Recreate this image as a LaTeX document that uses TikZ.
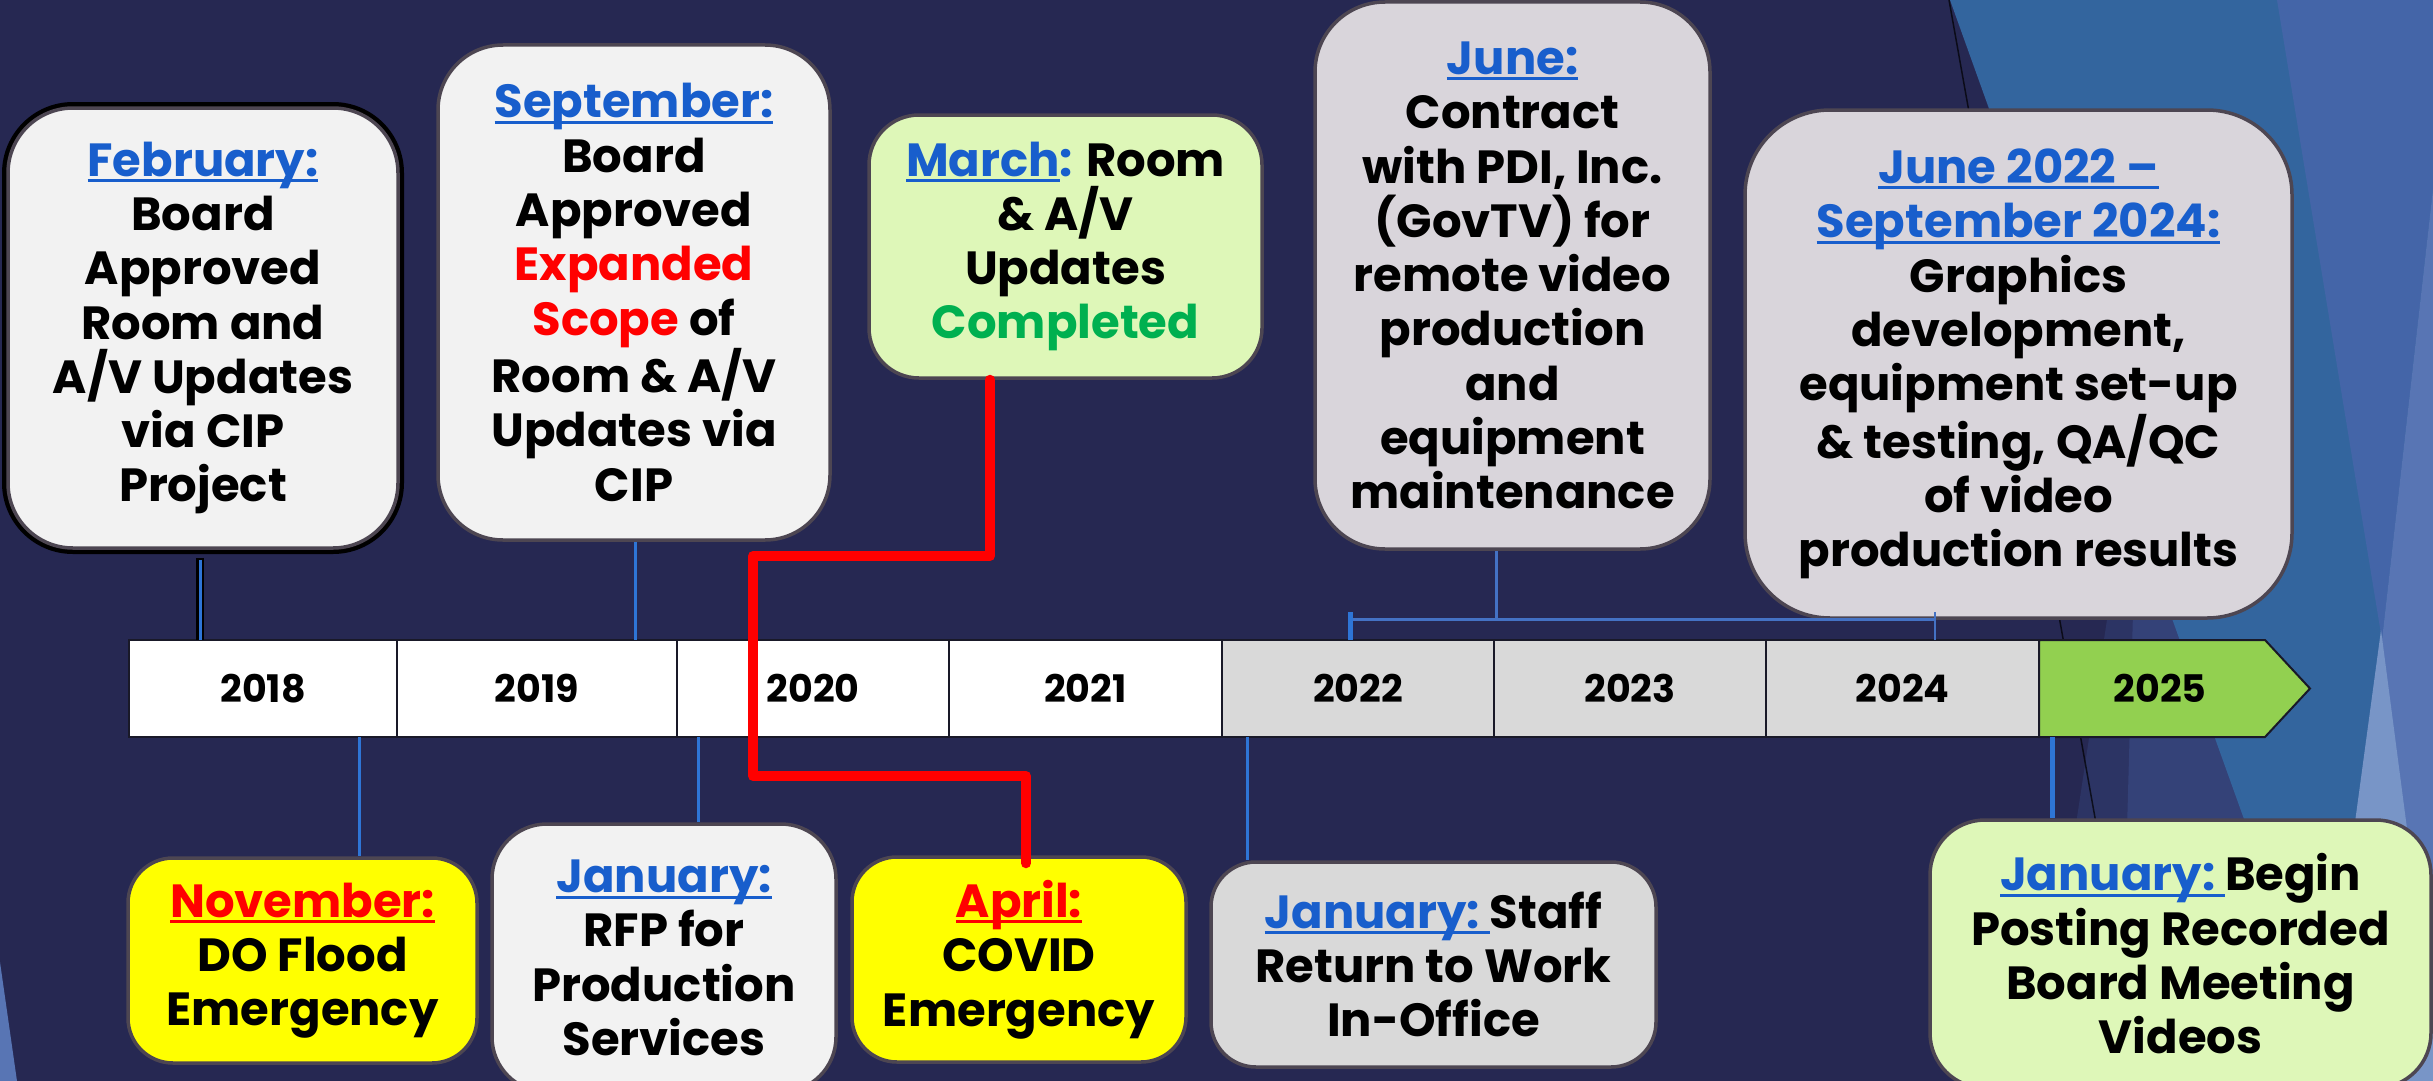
\documentclass[tikz,border=0pt]{standalone}
\usepackage{fontspec}
\setmainfont{Poppins}
\usetikzlibrary{calc}
\definecolor{bgnavy}{RGB}{38,40,82}
\definecolor{decoA}{RGB}{44,52,100}
\definecolor{decoB}{RGB}{52,66,120}
\definecolor{decoM}{RGB}{51,101,158}
\definecolor{decoV}{RGB}{68,101,168}
\definecolor{decoL}{RGB}{88,117,180}
\definecolor{decoW}{RGB}{120,149,199}
\definecolor{hblue}{RGB}{24,94,204}
\definecolor{pred}{RGB}{255,0,0}
\definecolor{pgreen}{RGB}{0,176,80}
\definecolor{boxline}{RGB}{77,70,82}
\definecolor{fgray}{RGB}{242,242,242}
\definecolor{flav}{RGB}{217,213,219}
\definecolor{fmid}{RGB}{217,217,217}
\definecolor{fgreen}{RGB}{222,247,184}
\definecolor{fyellow}{RGB}{255,255,0}
\definecolor{barg}{RGB}{146,208,80}
\definecolor{barline}{RGB}{25,25,40}
\definecolor{cblue}{RGB}{46,117,214}
\definecolor{brblue}{RGB}{68,114,196}
\newcommand{\boxfont}{\fontsize{46.5}{54.3}\selectfont\bfseries}
\newcommand{\yearfont}{\fontsize{38}{42}\selectfont\bfseries}
\newcommand{\ulx}[1]{\leavevmode\setbox0=\hbox{#1}\rlap{\rule[-6pt]{\wd0}{3pt}}\box0}
\newcommand{\mon}[1]{\leavevmode\textcolor{hblue}{\ulx{#1}}}
\newcommand{\rmon}[1]{\leavevmode\textcolor{pred}{\ulx{#1}}}
\tikzset{
  evbox/.style={draw=boxline, line width=3.5pt, align=center, inner sep=0pt,
    font=\boxfont, text=black},
  cell/.style={draw=barline, line width=2pt, inner sep=0pt, minimum height=97pt,
    font=\yearfont, text=black},
  conn/.style={cblue, line width=3pt},
  redline/.style={pred, line width=10pt, line cap=round, line join=round},
}
\begin{document}
\begin{tikzpicture}[x=1pt,y=-1pt]
\useasboundingbox (0,0) rectangle (2433,1081);
\fill[bgnavy] (0,0) rectangle (2433,1081);
% background facets
\fill[decoA] (2201,0) -- (2433,0) -- (2433,1081) -- (2037,1081) -- cycle;
\fill[decoB] (2150,0) -- (2433,0) -- (2433,1081) -- (2120,1081) -- cycle;
\fill[decoM] (1950,0) -- (2433,0) -- (2433,1081) -- (2338,1081) -- cycle;
\fill[decoV] (2277,0) -- (2433,0) -- (2433,189) -- (2382,640) -- cycle;
\fill[decoL] (2433,189) -- (2382,640) -- (2420,1081) -- (2433,1081) -- cycle;
\fill[decoW] (2381,630) -- (2320,1081) -- (2440,1081) -- cycle;
\draw[black, opacity=0.7, line width=1.5pt] (1949,0) -- (2142,1081);
\fill[decoL] (0,962) -- (17,1081) -- (0,1081) -- cycle;

% timeline bar
\node[cell, fill=white, minimum width=268pt] (y18) at (263,688.5) {2018};
\node[cell, fill=white, minimum width=280pt] (y19) at (537,688.5) {2019};
\node[cell, fill=white, minimum width=272pt] (y20) at (813,688.5) {2020};
\node[cell, fill=white, minimum width=273pt] (y21) at (1085.5,688.5) {2021};
\node[cell, fill=fmid, minimum width=272pt] (y22) at (1358,688.5) {2022};
\node[cell, fill=fmid, minimum width=272pt] (y23) at (1630,688.5) {2023};
\node[cell, fill=fmid, minimum width=273pt] (y24) at (1902.5,688.5) {2024};
\draw[barline, line width=2pt, fill=barg] (2039,640) -- (2265,640) -- (2310,688.5) -- (2265,737) -- (2039,737) -- cycle;
\node[font=\yearfont, inner sep=0pt] (y25) at (2160,688.5) {2025};

% connector anchor points on the bar
\coordinate (tfeb) at (200,640);
\coordinate (tsep) at (635,640);
\coordinate (tnov) at (359,737);
\coordinate (trfp) at (698,737);
\coordinate (tstf) at (1247,737);
\coordinate (tbeg) at (2052,737);
\coordinate (bl) at (1350,640);
\coordinate (br) at (1935,640);
\coordinate (bj) at (1496,619);

% boxes
\draw[black, line width=12pt, rounded corners=65pt] (8,108) rectangle (398,548);
\node[evbox, fill=fgray, rounded corners=65pt, minimum width=390pt, minimum height=440pt] (feb) at (203,328)
 {\mon{February:}\\Board\\Approved\\Room and\\A/V Updates\\via CIP\\Project};
\node[evbox, fill=fgray, rounded corners=65pt, minimum width=392pt, minimum height=495pt] (sep) at (634,292.5)
 {\mon{September:}\\Board\\Approved\\\textcolor{pred}{Expanded}\\\textcolor{pred}{Scope} of\\Room \& A/V\\Updates via\\CIP};
\node[evbox, fill=fgreen, rounded corners=50pt, minimum width=393pt, minimum height=263pt] (mar) at (1065.5,246.5)
 {\leavevmode\textcolor{hblue}{\ulx{March}:} Room\\\& A/V\\Updates\\\textcolor{pgreen}{Completed}};
\node[evbox, fill=flav, rounded corners=70pt, minimum width=395pt, minimum height=547pt] (jun) at (1512.5,275.5)
 {\mon{June:}\\Contract\\with PDI, Inc.\\(GovTV) for\\remote video\\production\\and\\equipment\\maintenance};
\node[evbox, fill=flav, rounded corners=85pt, minimum width=547pt, minimum height=508pt] (jun2) at (2018.5,364)
 {\mon{June 2022 –}\\\mon{September 2024:}\\Graphics\\development,\\equipment set-up\\\& testing, QA/QC\\of video\\production results};
\node[evbox, fill=fyellow, rounded corners=45pt, minimum width=349pt, minimum height=205pt] (nov) at (302.5,960.5)
 {\rmon{November:}\\DO Flood\\Emergency};
\node[evbox, fill=fgray, rounded corners=55pt, minimum width=344pt, minimum height=268pt] (rfp) at (664,958)
 {\mon{January:}\\RFP for\\Production\\Services};
\node[evbox, fill=fyellow, rounded corners=45pt, minimum width=334pt, minimum height=205pt] (apr) at (1019,959.5)
 {\rmon{April:}\\COVID\\Emergency};
\node[evbox, fill=fmid, rounded corners=45pt, minimum width=445pt, minimum height=205pt] (stf) at (1433.5,964.5)
 {\mon{January:\ }Staff\\Return to Work\\In-Office};
\node[evbox, fill=fgreen, rounded corners=55pt, minimum width=501pt, minimum height=268pt] (beg) at (2180.5,954)
 {\mon{January:\ }Begin\\Posting Recorded\\Board Meeting\\Videos};

% connectors
\draw[black, line width=8pt] (tfeb |- feb.south) ++(0,8) -- (tfeb);
\draw[conn] (tfeb |- feb.south) ++(0,10) -- (tfeb);
\draw[conn] (tsep |- sep.south) -- (tsep);
\draw[conn] (tnov) -- (tnov |- nov.north);
\draw[conn] (trfp) -- (trfp |- rfp.north);
\draw[conn] (tstf) -- (tstf |- stf.north);
\draw[cblue, line width=5pt] (tbeg) -- (tbeg |- beg.north);
\draw[brblue, line width=3pt] (bj |- jun.south) -- (bj);
\draw[brblue, line width=3pt] (bl |- bj) -- (br |- bj);
\draw[cblue, line width=5pt] (bl) -- ++(0,-28);
\draw[brblue, line width=2pt] (br) -- ++(0,-28);
% red path
\coordinate (r1) at (990,556);
\coordinate (r2) at (753,556);
\coordinate (r3) at (753,776);
\coordinate (r4) at (1026,776);
\draw[redline] (r1 |- mar.south) -- (r1) -- (r2) -- (r3) -- (r4) -- ($(r4 |- apr.north)+(0,8)$);
\end{tikzpicture}
\end{document}
